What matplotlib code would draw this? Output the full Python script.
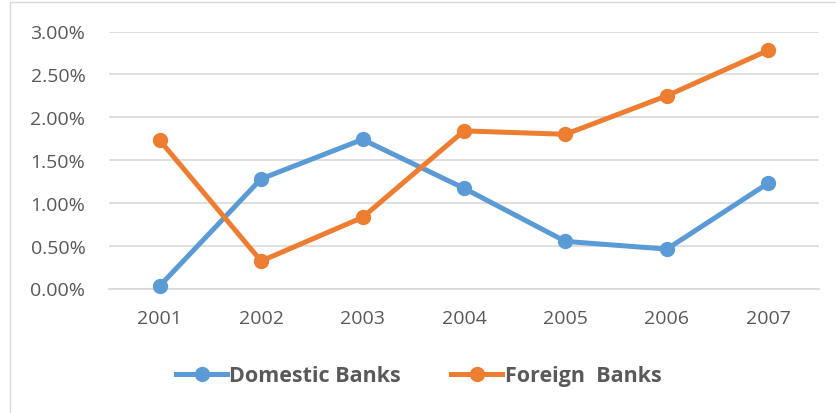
import matplotlib
matplotlib.use("Agg")
import matplotlib.pyplot as plt
from matplotlib.ticker import FuncFormatter
from matplotlib.patches import Rectangle

years = ["2001", "2002", "2003", "2004", "2005", "2006", "2007"]
domestic = [0.0003, 0.0128, 0.0174, 0.0117, 0.0055, 0.0046, 0.0123]
foreign = [0.0173, 0.0032, 0.0083, 0.0184, 0.0180, 0.0225, 0.0278]
yticks = [0.0, 0.005, 0.01, 0.015, 0.02, 0.025, 0.03]

plt.rcParams['font.family'] = ['Open Sans', 'DejaVu Sans']

W, H = 837, 414
fig = plt.figure(figsize=(W / 100, H / 100), dpi=100)
fig.patches.append(Rectangle((10 / W, 0 - 0.05), 1.1, (H - 3) / H + 0.05,
                             transform=fig.transFigure, fill=False,
                             edgecolor="#d9d9d9", linewidth=1.0))

ax = fig.add_axes([109 / W, 1 - 289.5 / H, (819 - 109) / W, (289.5 - 32.5) / H])
x = list(range(len(years)))
ax.plot(x, domestic, color="#5B9BD5", lw=3.6, marker="o", ms=10,
        label="Domestic Banks", clip_on=False, zorder=3)
ax.plot(x, foreign, color="#ED7D31", lw=3.6, marker="o", ms=10,
        label="Foreign  Banks", clip_on=False, zorder=3)

ax.set_xlim(-0.5, 6.5)
ax.set_ylim(0, 0.03)
ax.set_yticks(yticks)
ax.yaxis.set_major_formatter(FuncFormatter(lambda v, p: f"{v*100:.2f}%"))
ax.set_xticks(x)
ax.set_xticklabels(years)
ax.grid(axis="y", color="#d9d9d9", lw=1.2)
ax.set_axisbelow(True)
for s in ["top", "right", "left"]:
    ax.spines[s].set_visible(False)
ax.spines["bottom"].set_color("#d9d9d9")
ax.spines["bottom"].set_linewidth(1.2)
ax.tick_params(axis="both", length=0, labelsize=14, labelcolor="#595959")
ax.tick_params(axis="y", pad=17)
ax.tick_params(axis="x", pad=15)

leg = fig.legend(loc="center", bbox_to_anchor=(0.5, 1 - 377 / H), ncol=2,
                 frameon=False, prop={"size": 15.5, "weight": "bold"},
                 handlelength=2.4, handletextpad=0.1, columnspacing=2.3)
for t in leg.get_texts():
    t.set_color("#595959")

fig.savefig("out.png", dpi=100)
